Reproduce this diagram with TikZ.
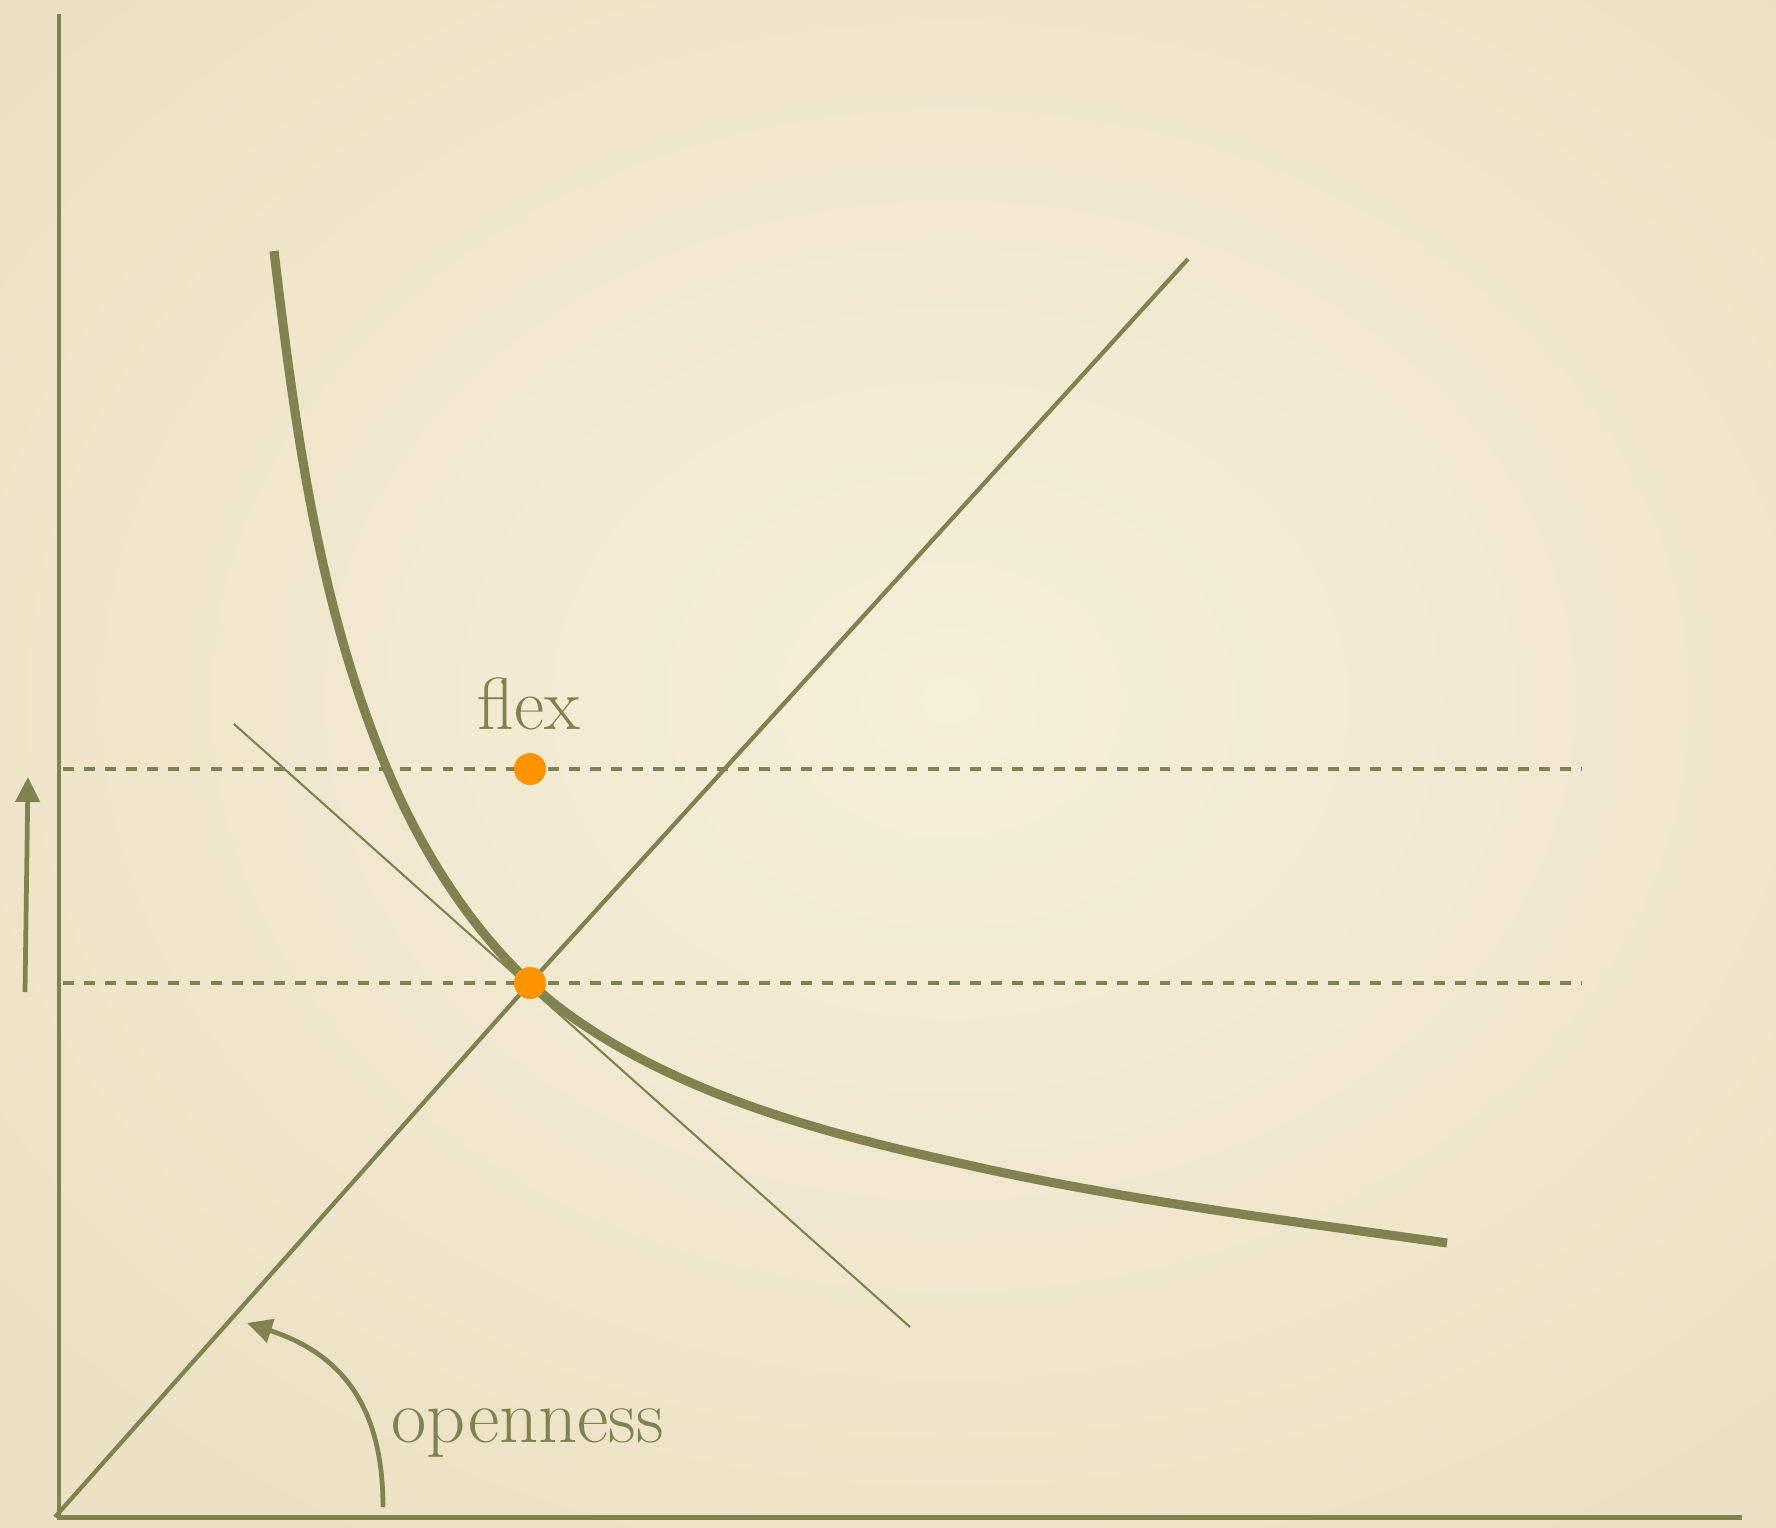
\documentclass[tikz,border=0pt]{standalone}
\usetikzlibrary{arrows.meta}
\definecolor{olive}{RGB}{128,130,80}
\definecolor{dotorange}{RGB}{255,148,0}
\definecolor{bgin}{RGB}{246,239,217}
\definecolor{bgout}{RGB}{235,225,196}
\tikzset{
  axisline/.style={draw=olive, line width=1.42pt},
  rayline/.style={draw=olive, line width=1.2pt},
  thickcurve/.style={draw=olive, line width=2.6pt},
  thinline/.style={draw=olive, line width=0.6pt},
  dashline/.style={draw=olive, line width=1.1pt, dash pattern=on 3.1pt off 2.9pt},
  arrowline/.style={draw=olive, line width=1.35pt, -{Triangle[length=0.25cm,width=0.24cm]}},
  dotnode/.style={circle, fill=dotorange, inner sep=0pt, minimum size=0.32cm},
  lbl/.style={text=olive, inner sep=0pt},
}
\begin{document}
\begin{tikzpicture}[x=1cm,y=-1cm]
\useasboundingbox (0,0) rectangle (17.76,15.27);
\path[shading=radial, inner color=bgin, outer color=bgout] (-3,-3) rectangle (22,17);
% axes
\coordinate (O) at (0.59,15.17);
\coordinate (ytop) at (0.59,0.14);
\coordinate (xend) at (17.42,15.17);
\draw[axisline] (ytop) -- (O) -- (xend);
% dashed levels
\coordinate (d1a) at (0.63,7.69);
\coordinate (d1b) at (15.82,7.69);
\coordinate (d2a) at (0.63,9.83);
\coordinate (d2b) at (15.82,9.83);
\draw[dashline] (d1a) -- (d1b);
\draw[dashline] (d2a) -- (d2b);
% ray
\coordinate (rs) at (0.55,15.17);
\coordinate (re) at (11.88,2.59);
\coordinate (P) at (5.30,9.83);
\draw[rayline] (rs) -- (P) -- (re);
% tangent
\coordinate (ta) at (2.34,7.24);
\coordinate (tb) at (9.10,13.27);
\draw[thinline] (ta) -- (tb);
% curve
\coordinate (S) at (2.74,2.51);
\coordinate (M) at (3.87,7.69);
\coordinate (Q) at (7.01,10.87);
\coordinate (R) at (9.77,11.67);
\coordinate (E) at (14.47,12.43);
\draw[thickcurve] (S) .. controls (2.95,4.27) and (3.185,6.058) .. (M)
  .. controls (4.203,8.483) and (4.677,9.248) .. (P)
  .. controls (5.786,10.277) and (6.401,10.614) .. (Q)
  .. controls (7.895,11.242) and (8.832,11.464) .. (R)
  .. controls (11.323,12.012) and (12.896,12.209) .. (E);
% dots
\node[dotnode] (dotlow) at (P) {};
\node[dotnode] (dothigh) at (5.30,7.69) {};
% labels
\node[lbl, font=\fontsize{21}{25}\selectfont, anchor=base] (flex) at (5.29,7.29) {flex};
\node[lbl, font=\fontsize{21.8}{26}\selectfont, anchor=base west] (open) at (3.91,14.42) {openness};
% left arrow
\coordinate (la) at (0.25,9.92);
\coordinate (lb) at (0.28,7.77);
\draw[arrowline] (la) -- (lb);
% openness arc arrow
\coordinate (aa) at (3.83,15.07);
\coordinate (ab) at (2.47,13.23);
\draw[arrowline] (aa) .. controls (3.83,14.1) and (3.45,13.55) .. (ab);
\end{tikzpicture}
\end{document}
